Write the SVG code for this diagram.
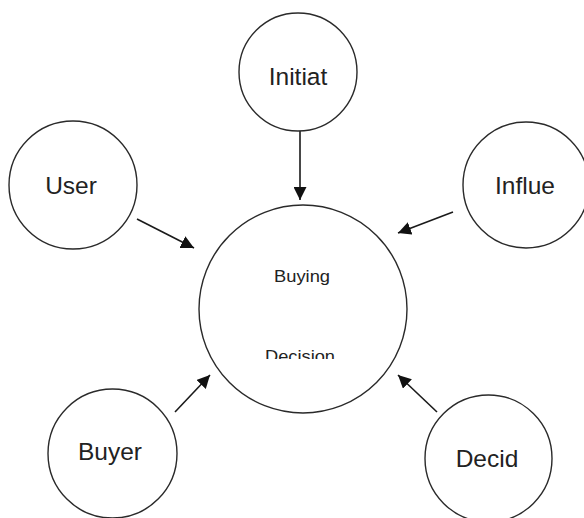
<svg xmlns="http://www.w3.org/2000/svg" width="584" height="518" viewBox="0 0 584 518">
  <style>
    .node circle { fill: #ffffff; stroke: #2a2a2a; stroke-width: 1.4; }
    .label { font-family: "Liberation Sans", Arial, sans-serif; font-size: 24.5px; fill: #222222; text-anchor: middle; }
    .small { font-family: "Liberation Sans", Arial, sans-serif; font-size: 16px; fill: #222222; text-anchor: middle; }
    .edge { stroke: #1a1a1a; stroke-width: 1.6; fill: none; marker-end: url(#arrowhead); }
  </style>
  <defs>
    <marker id="arrowhead" viewBox="0 0 12 12" refX="12" refY="6" markerWidth="13" markerHeight="13" orient="auto" markerUnits="userSpaceOnUse">
      <path d="M0,0 L12,6 L0,12 z" fill="#111111"/>
    </marker>
    <clipPath id="centerClip">
      <rect x="200" y="205" width="210" height="154"/>
    </clipPath>
  </defs>
  <rect width="584" height="518" fill="#ffffff"/>

  <g id="connectors">
    <line class="edge" x1="300" y1="131" x2="300" y2="200"/>
    <line class="edge" x1="137" y1="219" x2="194" y2="248"/>
    <line class="edge" x1="453" y1="212" x2="398" y2="233"/>
    <line class="edge" x1="175" y1="412" x2="210" y2="375"/>
    <line class="edge" x1="437" y1="412" x2="398" y2="375"/>
  </g>

  <g id="node-buying-decision" class="node">
    <circle cx="303" cy="309" r="104"/>
    <text class="small" x="302" y="282" textLength="56" lengthAdjust="spacingAndGlyphs">Buying</text>
    <text class="small" x="300" y="362" textLength="70" lengthAdjust="spacingAndGlyphs" clip-path="url(#centerClip)">Decision</text>
  </g>

  <g id="node-initiat" class="node">
    <circle cx="298" cy="72" r="59"/>
    <text class="label" x="298" y="85">Initiat</text>
  </g>

  <g id="node-user" class="node">
    <circle cx="73" cy="185" r="64"/>
    <text class="label" x="71" y="194">User</text>
  </g>

  <g id="node-influe" class="node">
    <circle cx="526" cy="185" r="63"/>
    <text class="label" x="525" y="194">Influe</text>
  </g>

  <g id="node-buyer" class="node">
    <circle cx="112.5" cy="453.5" r="64.5"/>
    <text class="label" x="110" y="460">Buyer</text>
  </g>

  <g id="node-decid" class="node">
    <circle cx="488.5" cy="458.5" r="63.5"/>
    <text class="label" x="487" y="467">Decid</text>
  </g>
</svg>
